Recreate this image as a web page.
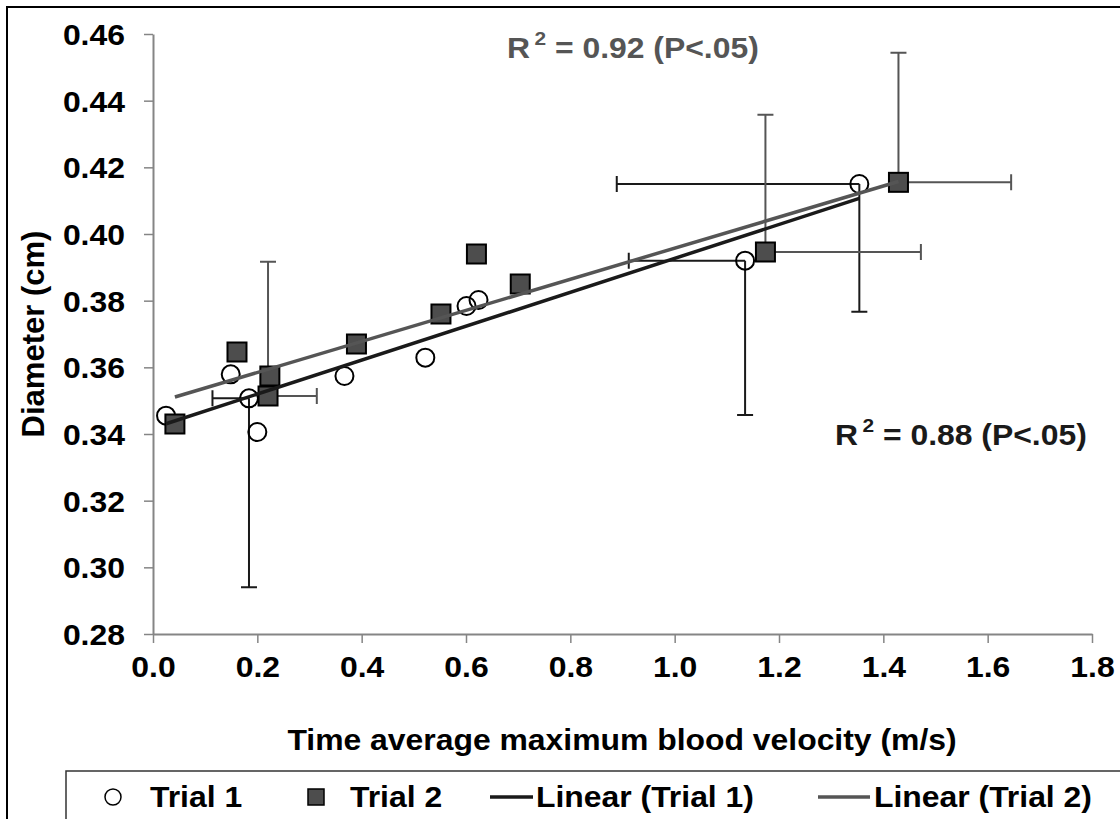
<!DOCTYPE html>
<html>
<head>
<meta charset="utf-8">
<script src="https://cdn.jsdelivr.net/npm/d3@7"></script>
<style>
  body { margin: 0; background: #fff; }
  svg { display: block; font-family: Arial, 'Liberation Sans', sans-serif; font-weight: bold; }
</style>
</head>
<body>
<svg width="1120" height="819"></svg>
<script>
const { select, scaleLinear, axisLeft, axisBottom, range, format, mean, sum, extent } = d3;

// Trial 1 (open circles)
const trial1Vel = [0.025, 0.149, 0.184, 0.200, 0.367, 0.522, 0.601, 0.624, 1.135, 1.354];
const trial1Dia = [0.3455, 0.3579, 0.3507, 0.3406, 0.3574, 0.3629, 0.3784, 0.3802, 0.392, 0.415];
// minus-only error bars (0 = none)
const trial1VelErr = [0, 0, 0.070, 0, 0, 0, 0, 0, 0.223, 0.465];
const trial1DiaErr = [0, 0, 0.0567, 0, 0, 0, 0, 0, 0.0463, 0.0383];

// Trial 2 (filled squares)
const trial2Vel = [0.042, 0.161, 0.2205, 0.224, 0.390, 0.552, 0.620, 0.704, 1.174, 1.429];
const trial2Dia = [0.343, 0.3646, 0.3514, 0.3574, 0.367, 0.376, 0.394, 0.385, 0.3946, 0.4155];
// plus-only error bars (0 = none)
const trial2VelErr = [0, 0, 0.0935, 0, 0, 0, 0, 0, 0.298, 0.216];
const trial2DiaErr = [0, 0, 0.0403, 0, 0, 0, 0, 0, 0.0412, 0.0389];

const xTicks = range(0, 1.81, 0.2);
const yTicks = range(0.28, 0.461, 0.02);
const r2Labels = ['0.88', '0.92'];
const legendLabels = ['Trial 1', 'Trial 2', 'Linear (Trial 1)', 'Linear (Trial 2)'];

const C1 = '#1a1a1a';
const C2 = '#555555';
const SQ_FILL = '#4d4d4d';
const AXIS = '#858585';
const SX = 1.1; // text in the original is a bit wide

const svg = select('svg');
const width = +svg.attr('width');
const height = +svg.attr('height');

const x = scaleLinear().domain([0, 1.8]).range([153, 1092]);
const y = scaleLinear().domain([0.28, 0.46]).range([634, 34]);

const stretch = (sel, tx, ty) =>
  sel.attr('transform', `translate(${tx},${ty}) scale(${SX},1)`);

// outer frame (cropped on right and bottom)
svg.append('path')
  .attr('d', `M7,${height + 2}V7H${width + 2}`)
  .attr('fill', 'none')
  .attr('stroke', '#000')
  .attr('stroke-width', 2);

// Axes
const yAxisG = svg.append('g')
  .attr('transform', `translate(${x(0)},0)`)
  .call(axisLeft(y).tickValues(yTicks).tickFormat(format('.2f')).tickSizeInner(9).tickSizeOuter(0));
const xAxisG = svg.append('g')
  .attr('transform', `translate(0,${y(0.28)})`)
  .call(axisBottom(x).tickValues(xTicks).tickFormat(format('.1f')).tickSizeInner(9).tickSizeOuter(0));

[yAxisG, xAxisG].forEach((g) => {
  g.select('.domain').attr('stroke', AXIS).attr('stroke-width', 2);
  g.selectAll('.tick line').attr('stroke', AXIS).attr('stroke-width', 1.5);
  g.selectAll('.tick text')
    .attr('fill', '#000')
    .attr('font-size', 29)
    .attr('font-family', null);
});
yAxisG.selectAll('.tick text')
  .attr('x', -25.5)
  .attr('dy', '0.36em')
  .attr('transform', `scale(${SX},1)`);
xAxisG.selectAll('.tick text')
  .attr('y', 43)
  .attr('dy', 0)
  .attr('transform', `scale(${SX},1)`);

// Axis titles
svg.append('text')
  .attr('text-anchor', 'middle')
  .attr('font-size', 29)
  .call(stretch, 622, 750)
  .text('Time average maximum blood velocity (m/s)');

svg.append('text')
  .attr('text-anchor', 'middle')
  .attr('font-size', 31)
  .attr('transform', `translate(44,${(y(0.28) + y(0.46)) / 2}) rotate(-90)`)
  .text('Diameter (cm)');

// Error bars
const CAP = 8;
const errorBars = (vel, dia, velErr, diaErr, sign, color) => {
  const g = svg.append('g')
    .attr('stroke', color)
    .attr('stroke-width', 2)
    .attr('fill', 'none');
  vel.forEach((v, i) => {
    const px = x(v), py = y(dia[i]);
    if (velErr[i]) {
      const ex = x(v + sign * velErr[i]);
      g.append('path').attr('d', `M${px},${py}H${ex}M${ex},${py - CAP}V${py + CAP}`);
    }
    if (diaErr[i]) {
      const ey = y(dia[i] + sign * diaErr[i]);
      g.append('path').attr('d', `M${px},${py}V${ey}M${px - CAP},${ey}H${px + CAP}`);
    }
  });
};
errorBars(trial1Vel, trial1Dia, trial1VelErr, trial1DiaErr, -1, C1);
errorBars(trial2Vel, trial2Dia, trial2VelErr, trial2DiaErr, 1, C2);

// Markers
svg.append('g')
  .selectAll('circle')
  .data(trial1Vel.map((v, i) => [v, trial1Dia[i]]))
  .join('circle')
  .attr('cx', (d) => x(d[0]))
  .attr('cy', (d) => y(d[1]))
  .attr('r', 9)
  .attr('fill', 'none')
  .attr('stroke', '#000')
  .attr('stroke-width', 2);

const SQ = 19;
svg.append('g')
  .selectAll('rect')
  .data(trial2Vel.map((v, i) => [v, trial2Dia[i]]))
  .join('rect')
  .attr('x', (d) => x(d[0]) - SQ / 2)
  .attr('y', (d) => y(d[1]) - SQ / 2)
  .attr('width', SQ)
  .attr('height', SQ)
  .attr('fill', SQ_FILL)
  .attr('stroke', '#000')
  .attr('stroke-width', 2);

// Linear trend lines (least squares)
const fit = (xs, ys) => {
  const mx = mean(xs), my = mean(ys);
  const b = sum(xs, (v, i) => (v - mx) * (ys[i] - my)) / sum(xs, (v) => (v - mx) ** 2);
  return (v) => my + b * (v - mx);
};
const trendLine = (xs, ys, color) => {
  const f = fit(xs, ys);
  const [x0, x1] = extent(xs);
  svg.append('line')
    .attr('x1', x(x0)).attr('y1', y(f(x0)))
    .attr('x2', x(x1)).attr('y2', y(f(x1)))
    .attr('stroke', color)
    .attr('stroke-width', 3.5);
};
trendLine(trial1Vel, trial1Dia, C1);
trendLine(trial2Vel, trial2Dia, C2);

// R squared labels
const r2Label = (value, tx, ty, color) => {
  const t = svg.append('text')
    .attr('font-size', 29)
    .attr('fill', color)
    .call(stretch, tx, ty);
  t.append('tspan').text('R');
  t.append('tspan').attr('font-size', 19).attr('dx', 4).attr('dy', -13).text('2');
  t.append('tspan').attr('dy', 13).text(` = ${value} (P<.05)`);
};
r2Label(r2Labels[1], 507, 58, C2);
r2Label(r2Labels[0], 835, 445, C1);

// Legend
const LY = 797;
svg.append('path')
  .attr('d', `M66,${height + 2}V771H${width + 2}`)
  .attr('fill', 'none')
  .attr('stroke', '#333')
  .attr('stroke-width', 1.5);

const legend = svg.append('g').attr('font-size', 29);
legend.append('circle')
  .attr('cx', 113).attr('cy', LY).attr('r', 8)
  .attr('fill', 'none').attr('stroke', '#000').attr('stroke-width', 1.5);
legend.append('rect')
  .attr('x', 308).attr('y', LY - 8).attr('width', 16).attr('height', 16)
  .attr('fill', SQ_FILL).attr('stroke', '#000').attr('stroke-width', 1.5);
legend.append('line')
  .attr('x1', 490).attr('x2', 533).attr('y1', LY).attr('y2', LY)
  .attr('stroke', C1).attr('stroke-width', 3.5);
legend.append('line')
  .attr('x1', 818).attr('x2', 870).attr('y1', LY).attr('y2', LY)
  .attr('stroke', C2).attr('stroke-width', 3.5);

const legendX = [150, 350, 536, 874];
legend.selectAll('text')
  .data(legendLabels)
  .join('text')
  .each(function (d, i) {
    select(this).call(stretch, legendX[i], LY + 10);
  })
  .text((d) => d);
</script>
</body>
</html>
